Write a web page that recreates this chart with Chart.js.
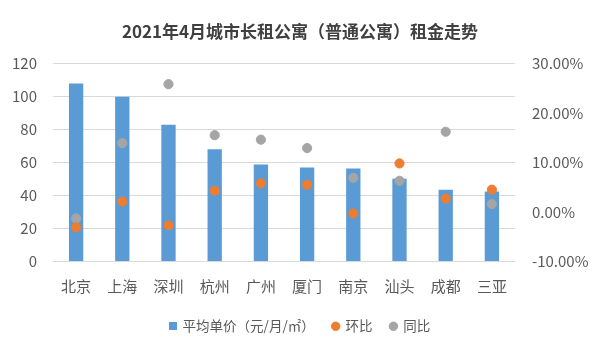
<!DOCTYPE html>
<html><head><meta charset="utf-8">
<script src="https://cdn.jsdelivr.net/npm/chart.js@4/dist/chart.umd.min.js"></script>
<style>html,body{margin:0;padding:0;background:#fff}#wrap{width:600px;height:348px}</style>
</head><body><div id="wrap"><canvas id="c" width="600" height="348"></canvas></div>
<script>
const titleText = '2021年4月城市长租公寓（普通公寓）租金走势';
const categories = ['北京','上海','深圳','杭州','广州','厦门','南京','汕头','成都','三亚'];
const avgPrice = [107.8, 99.8, 82.8, 68, 58.8, 57, 56.4, 50.2, 43.4, 42.4];
const momPct = [-3.1, 2.1, -2.7, 4.3, 5.8, 5.5, -0.3, 9.8, 2.7, 4.5];
const yoyPct = [-1.3, 13.9, 25.8, 15.5, 14.6, 12.9, 6.9, 6.3, 16.2, 1.6];
const leftTicks = [0, 20, 40, 60, 80, 100, 120];
const rightTicks = [-10, 0, 10, 20, 30];
const seriesNames = ['平均单价（元/月/㎡）', '环比', '同比'];

const FONT = '"Noto Sans CJK SC", "Noto Sans", sans-serif';
const TXT = '#595959';

// small square legend marker for the bar series
const sq = document.createElement('canvas');
sq.width = 8; sq.height = 8;
const sctx = sq.getContext('2d');
sctx.fillStyle = '#5B9BD5'; sctx.fillRect(0, 0, 8, 8);

new Chart(document.getElementById('c'), {
  data: {
    labels: categories,
    datasets: [
      { type: 'bar', label: seriesNames[0], data: avgPrice, yAxisID: 'y',
        backgroundColor: '#5B9BD5', borderWidth: 0, categoryPercentage: 1, barPercentage: 0.31,
        pointStyle: sq, order: 3 },
      { type: 'line', label: seriesNames[1], data: momPct, yAxisID: 'y1', showLine: false,
        pointStyle: 'circle', pointRadius: 4.6, pointBackgroundColor: '#ED7D31', pointBorderColor: '#ED7D31',
        backgroundColor: '#ED7D31', borderColor: '#ED7D31', order: 1 },
      { type: 'line', label: seriesNames[2], data: yoyPct, yAxisID: 'y1', showLine: false,
        pointStyle: 'circle', pointRadius: 4.6, pointBackgroundColor: '#A5A5A5', pointBorderColor: '#A5A5A5',
        backgroundColor: '#A5A5A5', borderColor: '#A5A5A5', order: 2 }
    ]
  },
  options: {
    responsive: false,
    animation: false,
    devicePixelRatio: 1,
    layout: { padding: { left: 0, right: 0, top: 0, bottom: 5 } },
    plugins: {
      tooltip: { enabled: false },
      title: { display: true, text: titleText, color: '#404040',
        font: { family: FONT, size: 17, weight: 'bold' }, padding: { top: 21, bottom: 22 } },
      legend: { position: 'bottom',
        labels: { usePointStyle: true, boxWidth: 6, boxHeight: 6, color: TXT, padding: 18,
          font: { family: FONT, size: 13.5 },
          sort: (a, b) => a.datasetIndex - b.datasetIndex } }
    },
    scales: {
      x: { grid: { display: false }, border: { display: false },
        ticks: { color: TXT, font: { family: FONT, size: 15 }, padding: 8 },
        afterFit: s => { s.height = 40; } },
      y: { position: 'left', min: 0, max: 120,
        grid: { color: '#D9D9D9', drawTicks: false }, border: { display: false },
        afterBuildTicks: s => { s.ticks = leftTicks.map(v => ({ value: v })); },
        ticks: { color: TXT, font: { family: FONT, size: 15 }, padding: 16 },
        afterFit: s => { s.width = 53; } },
      y1: { position: 'right', min: -10, max: 30,
        grid: { display: false }, border: { display: false },
        afterBuildTicks: s => { s.ticks = rightTicks.map(v => ({ value: v })); },
        ticks: { color: TXT, font: { family: FONT, size: 15 }, padding: 9,
          callback: v => v.toFixed(2) + '%' },
        afterFit: s => { s.width = 85; } }
    }
  }
});
</script>
</body></html>
